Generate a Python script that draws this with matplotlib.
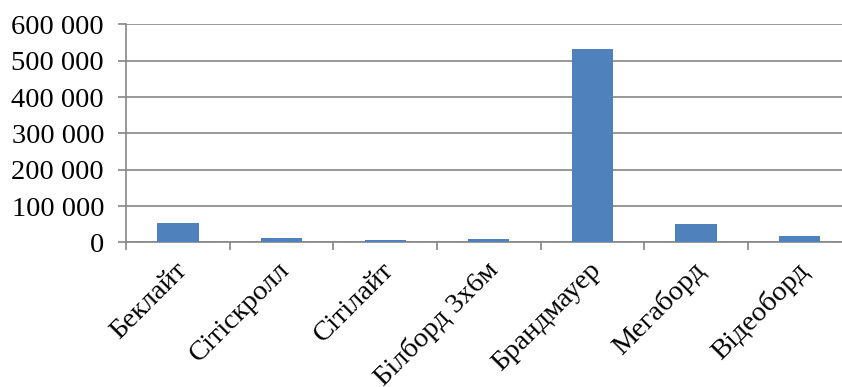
import matplotlib.pyplot as plt
import matplotlib.transforms as mtransforms
import numpy as np

categories = ["Беклайт", "Сітіскролл", "Сітілайт", "Білборд 3х6м",
              "Брандмауер", "Мегаборд", "Відеоборд"]
values = [52800, 12400, 6900, 9600, 533400, 50900, 18700]
yticks = [0, 100000, 200000, 300000, 400000, 500000, 600000]
ytick_labels = ["0", "100 000", "200 000", "300 000", "400 000", "500 000", "600 000"]

plt.rcParams["font.family"] = ["Liberation Serif", "DejaVu Serif"]

fig = plt.figure(figsize=(8.42, 3.87), dpi=100)
ax = fig.add_axes([0.150, 0.3734, 0.861, 0.5633])

x = np.arange(len(categories))
ax.bar(x, values, width=0.4, color="#4F81BD", zorder=3)

ax.set_xlim(-0.5, len(categories) - 0.5)
ax.set_ylim(0, 600000)

ax.set_yticks(yticks)
ax.set_yticklabels(ytick_labels, fontsize=20.5)
ax.yaxis.grid(True, color="#868686", linewidth=1.2, zorder=0)

# category boundary ticks, labels sit at the centres
ax.set_xticks(np.arange(len(categories) + 1) - 0.5)
ax.set_xticklabels([])
ax.set_xticks(x, minor=True)
ax.set_xticklabels(categories, minor=True, fontsize=20.5, rotation=45,
                   ha="right", va="top", rotation_mode="anchor")
ax.tick_params(axis="x", which="minor", length=0, pad=5)
ax.tick_params(axis="x", which="major", length=6, width=1.2, color="#868686")
ax.tick_params(axis="y", length=6, width=1.2, color="#868686", pad=10)

# nudge rotated labels a bit down and left
shift = mtransforms.ScaledTranslation(-0.04, -0.08, fig.dpi_scale_trans)
for lbl in ax.get_xticklabels(minor=True):
    lbl.set_transform(lbl.get_transform() + shift)

for side in ["top", "right"]:
    ax.spines[side].set_visible(False)
for side in ["left", "bottom"]:
    ax.spines[side].set_color("#868686")
    ax.spines[side].set_linewidth(1.2)

fig.savefig("out.png", dpi=100)
